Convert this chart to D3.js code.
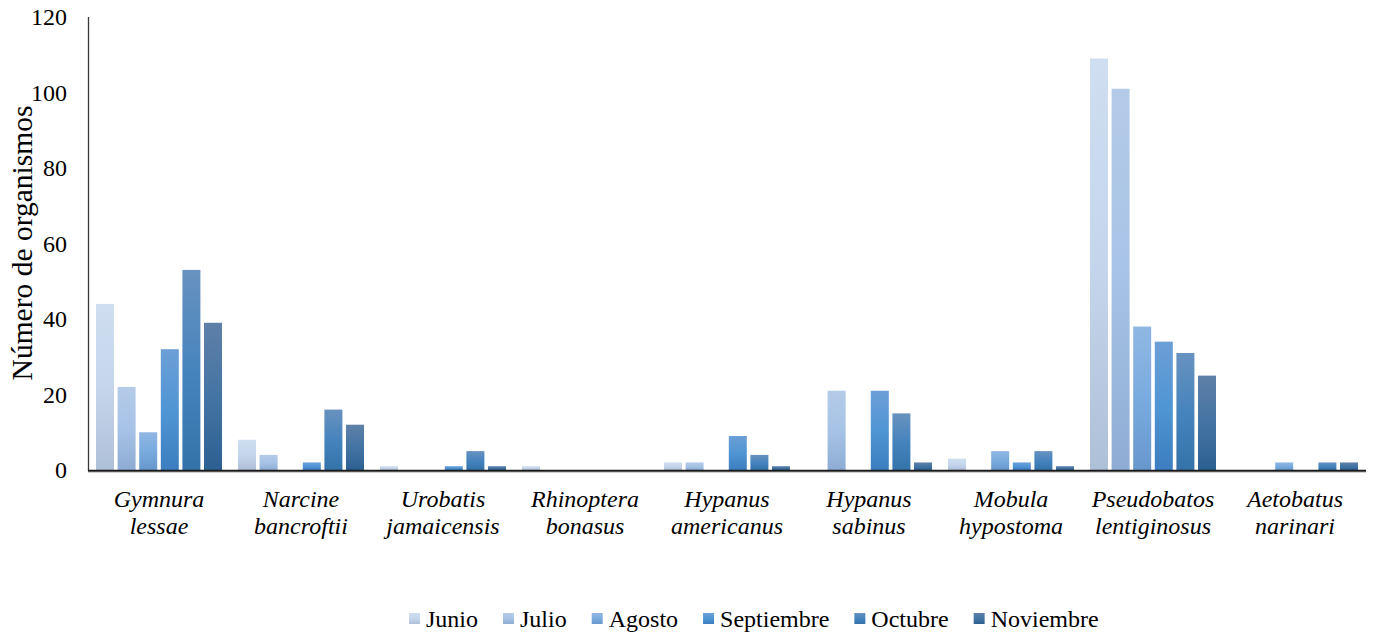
<!DOCTYPE html>
<html>
<head>
<meta charset="utf-8">
<script src="https://cdn.jsdelivr.net/npm/d3@7"></script>
<style>
  html, body { margin: 0; padding: 0; background: #ffffff; }
  svg { display: block; }
  text { font-family: "Liberation Serif", "Times New Roman", serif; fill: #000; }
</style>
</head>
<body>
<svg id="chart" width="1377" height="632"></svg>
<script>
// Species (two-line italic labels)
const species = [
  ["Gymnura", "lessae"],
  ["Narcine", "bancroftii"],
  ["Urobatis", "jamaicensis"],
  ["Rhinoptera", "bonasus"],
  ["Hypanus", "americanus"],
  ["Hypanus", "sabinus"],
  ["Mobula", "hypostoma"],
  ["Pseudobatos", "lentiginosus"],
  ["Aetobatus", "narinari"]
];
const months = ["Junio", "Julio", "Agosto", "Septiembre", "Octubre", "Noviembre"];

// Organisms counted per month, one array per species (Junio..Noviembre)
const gymnuraLessae         = [44, 22, 10, 32, 53, 39];
const narcineBancroftii     = [8, 4, 0, 2, 16, 12];
const urobatisJamaicensis   = [1, 0, 0, 1, 5, 1];
const rhinopteraBonasus     = [1, 0, 0, 0, 0, 0];
const hypanusAmericanus     = [2, 2, 0, 9, 4, 1];
const hypanusSabinus        = [0, 21, 0, 21, 15, 2];
const mobulaHypostoma       = [3, 0, 5, 2, 5, 1];
const pseudobatosLentig     = [109, 101, 38, 34, 31, 25];
const aetobatusNarinari     = [0, 0, 2, 0, 2, 2];

const counts = [gymnuraLessae, narcineBancroftii, urobatisJamaicensis, rhinopteraBonasus,
  hypanusAmericanus, hypanusSabinus, mobulaHypostoma, pseudobatosLentig, aetobatusNarinari];

const yTicks = [0, 20, 40, 60, 80, 100, 120];

// Per-month gradient (top, middle, bottom)
const monthGradients = [
  ["#cfdef0", "#c5d6ec", "#aebfd8"],
  ["#b4cbe8", "#a7c3e6", "#8eacd4"],
  ["#90b7e3", "#7aabdf", "#6797cc"],
  ["#6c9fd6", "#5095d4", "#3c7ebf"],
  ["#6892bf", "#4684bd", "#3472aa"],
  ["#5e80a8", "#4474a3", "#2d6092"]
];

const svg = d3.select("#chart");
const plotLeft = 88, plotRight = 1366, plotTop = 17, plotBottom = 470;

const keys = species.map(s => s.join(" "));
const x = d3.scaleBand().domain(keys).range([plotLeft, plotRight]).paddingInner(0).paddingOuter(0);
const xm = d3.scaleBand().domain(months).range([8, x.bandwidth() - 8]).paddingInner(0.1667);
const y = d3.scaleLinear().domain([0, 120]).range([plotBottom, plotTop]);

// Gradients
const defs = svg.append("defs");
monthGradients.forEach((g, i) => {
  const lg = defs.append("linearGradient")
    .attr("id", "grad" + i)
    .attr("x1", 0).attr("y1", 0).attr("x2", 0).attr("y2", 1);
  lg.append("stop").attr("offset", "0%").attr("stop-color", g[0]);
  lg.append("stop").attr("offset", "50%").attr("stop-color", g[1]);
  lg.append("stop").attr("offset", "100%").attr("stop-color", g[2]);
});

// Bars
const groups = svg.append("g").selectAll("g")
  .data(species.map((s, i) => ({ key: keys[i], values: counts[i] })))
  .join("g")
  .attr("transform", d => `translate(${x(d.key)},0)`);

groups.selectAll("rect")
  .data(d => d.values.map((v, j) => ({ month: months[j], v, j })).filter(e => e.v > 0))
  .join("rect")
  .attr("x", e => xm(e.month))
  .attr("width", xm.bandwidth())
  .attr("y", e => y(e.v))
  .attr("height", e => y(0) - y(e.v))
  .attr("fill", e => `url(#grad${e.j})`);

// Y axis tick labels
const yAxis = d3.axisLeft(y).tickValues(yTicks).tickSize(0).tickPadding(21);
const ya = svg.append("g").attr("transform", `translate(${plotLeft},0)`).call(yAxis);
ya.select(".domain").remove();
ya.selectAll("text")
  .style("font-family", '"Liberation Serif", "Times New Roman", serif')
  .style("font-size", "24px")
  .attr("fill", "#000");

// Axis lines
svg.append("line")
  .attr("x1", plotLeft + 0.5).attr("x2", plotLeft + 0.5)
  .attr("y1", plotTop).attr("y2", plotBottom + 1)
  .attr("stroke", "#3a3a3a").attr("stroke-width", 1.3);
svg.append("line")
  .attr("x1", plotLeft).attr("x2", plotRight)
  .attr("y1", plotBottom + 2.5).attr("y2", plotBottom + 2.5)
  .attr("stroke", "#d0d0d0").attr("stroke-width", 1);
svg.append("line")
  .attr("x1", plotLeft).attr("x2", plotRight)
  .attr("y1", plotBottom + 0.8).attr("y2", plotBottom + 0.8)
  .attr("stroke", "#1a1a1a").attr("stroke-width", 2);

// Category labels
const cat = svg.append("g").selectAll("text")
  .data(species.map((s, i) => ({ key: keys[i], lines: s })))
  .join("text")
  .attr("x", d => x(d.key) + x.bandwidth() / 2)
  .attr("y", 507)
  .attr("text-anchor", "middle")
  .style("font-size", "24px")
  .style("font-style", "italic");
cat.selectAll("tspan")
  .data(d => d.lines)
  .join("tspan")
  .attr("x", function () { return d3.select(this.parentNode).attr("x"); })
  .attr("dy", (d, i) => i === 0 ? 0 : 27)
  .text(d => d);

// Y axis title
svg.append("text")
  .attr("transform", "translate(32,243) rotate(-90)")
  .attr("text-anchor", "middle")
  .style("font-size", "29.5px")
  .text("Número de organismos");

// Legend
const legend = svg.append("g");
const items = legend.selectAll("g").data(months).join("g");
items.append("rect")
  .attr("width", 11).attr("height", 11)
  .attr("y", 613)
  .attr("fill", (d, i) => `url(#grad${i})`);
items.append("text")
  .attr("x", 17).attr("y", 627)
  .style("font-size", "24px")
  .text(d => d);
let cursor = 0;
const gap = 25;
items.each(function () {
  const w = 17 + d3.select(this).select("text").node().getComputedTextLength();
  d3.select(this).attr("transform", `translate(${cursor},0)`);
  cursor += w + gap;
});
const total = cursor - gap;
legend.attr("transform", `translate(${Math.round(754 - total / 2)},0)`);
</script>
</body>
</html>
